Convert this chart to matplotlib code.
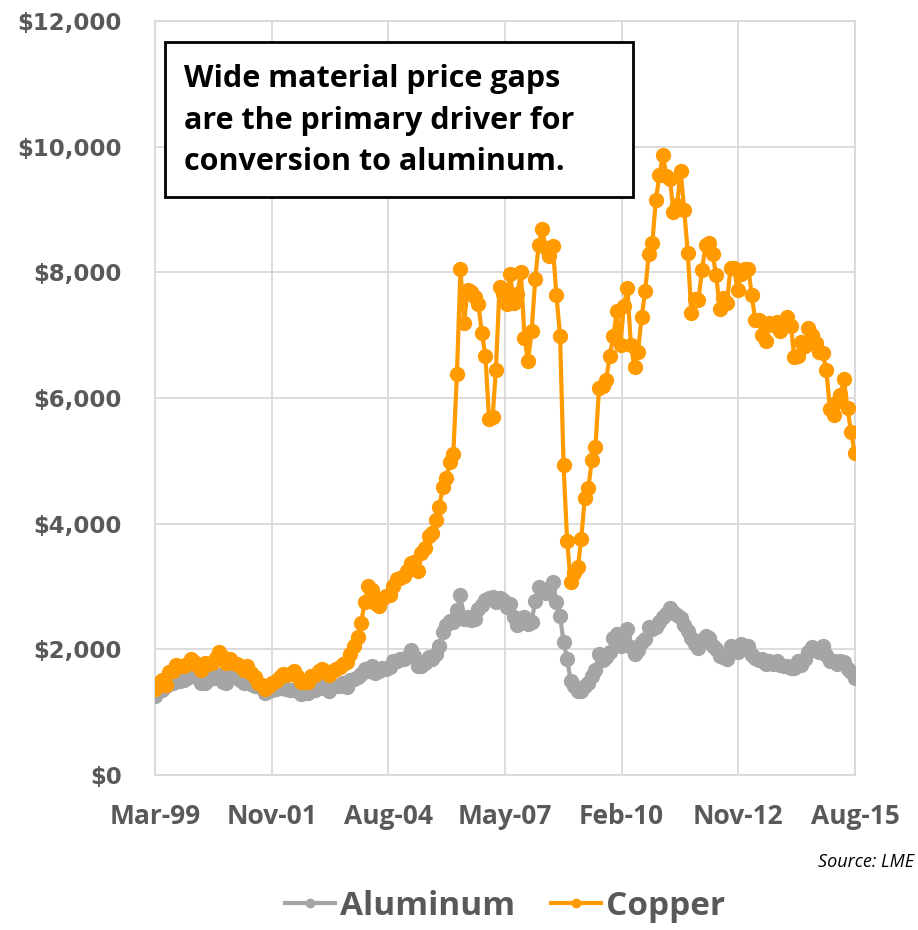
import datetime as dt

import matplotlib.pyplot as plt
import matplotlib.dates as mdates
from matplotlib.patches import Rectangle
from matplotlib.ticker import FuncFormatter

# monthly LME prices, USD per tonne, Mar-1999 .. Aug-2015
copper = [
    1376, 1459, 1508, 1425, 1641, 1648, 1745, 1731, 1735, 1768,                  # 1999 (Mar-Dec)
    1843, 1802, 1740, 1676, 1784, 1760, 1787, 1870, 1959, 1878, 1788, 1848,      # 2000
    1781, 1771, 1729, 1669, 1733, 1624, 1563, 1464, 1426, 1374, 1416, 1472,      # 2001
    1502, 1563, 1604, 1588, 1605, 1648, 1581, 1481, 1476, 1481, 1575, 1596,      # 2002
    1648, 1683, 1658, 1587, 1649, 1686, 1712, 1761, 1791, 1922, 2055, 2201,      # 2003
    2423, 2759, 3006, 2948, 2733, 2690, 2808, 2853, 2858, 3010, 3121, 3143,      # 2004
    3170, 3254, 3380, 3391, 3245, 3528, 3614, 3796, 3857, 4059, 4269, 4577,      # 2005
    4734, 4982, 5103, 6388, 8046, 7197, 7712, 7692, 7602, 7500, 7029, 6675,      # 2006
    5670, 5699, 6452, 7766, 7657, 7495, 7970, 7510, 7650, 8008, 6960, 6587,      # 2007
    7061, 7888, 8439, 8685, 8383, 8260, 8414, 7633, 6990, 4927, 3717, 3072,      # 2008
    3221, 3315, 3750, 4407, 4569, 5014, 5216, 6165, 6196, 6288, 6676, 6982,      # 2009
    7386, 6848, 7463, 7745, 6838, 6499, 6735, 7284, 7709, 8292, 8470, 9147,      # 2010
    9556, 9868, 9531, 9483, 8960, 9067, 9620, 9000, 8300, 7350, 7581, 7565,      # 2011
    8040, 8441, 8470, 8289, 7955, 7423, 7584, 7516, 8068, 8062, 7711, 7966,      # 2012
    8048, 8061, 7645, 7234, 7249, 7000, 6907, 7189, 7160, 7203, 7070, 7215,      # 2013
    7291, 7149, 6650, 6674, 6891, 6821, 7113, 7002, 6872, 6737, 6713, 6446,      # 2014
    5831, 5729, 5940, 6042, 6295, 5833, 5457, 5127,                              # 2015 (Jan-Aug)
]

aluminum = [
    1250, 1340, 1360, 1420, 1480, 1460, 1520, 1500, 1510, 1550,                  # 1999
    1680, 1650, 1550, 1470, 1460, 1510, 1590, 1550, 1590, 1480, 1470, 1590,      # 2000
    1600, 1600, 1510, 1460, 1540, 1450, 1420, 1420, 1380, 1310, 1330, 1360,      # 2001
    1370, 1380, 1410, 1370, 1350, 1360, 1350, 1290, 1300, 1300, 1370, 1360,      # 2002
    1380, 1410, 1390, 1330, 1420, 1410, 1410, 1460, 1400, 1510, 1530, 1560,      # 2003
    1600, 1680, 1660, 1730, 1630, 1660, 1700, 1690, 1720, 1820, 1820, 1850,      # 2004
    1840, 1880, 1990, 1890, 1740, 1730, 1790, 1880, 1840, 1930, 2060, 2270,      # 2005
    2380, 2450, 2430, 2620, 2860, 2480, 2510, 2460, 2480, 2640, 2700, 2790,      # 2006
    2820, 2830, 2760, 2810, 2790, 2680, 2720, 2510, 2380, 2440, 2510, 2400,      # 2007
    2440, 2770, 3000, 2960, 2900, 2960, 3070, 2760, 2530, 2120, 1850, 1490,      # 2008
    1410, 1330, 1340, 1420, 1460, 1580, 1670, 1930, 1830, 1880, 1950, 2180,      # 2009
    2240, 2050, 2210, 2320, 2040, 1930, 1990, 2110, 2160, 2350, 2330, 2350,      # 2010
    2440, 2510, 2560, 2660, 2600, 2550, 2500, 2380, 2290, 2180, 2080, 2020,      # 2011
    2150, 2210, 2180, 2050, 2000, 1890, 1880, 1840, 2060, 1980, 1950, 2080,      # 2012
    2040, 2050, 1910, 1860, 1830, 1840, 1770, 1820, 1760, 1810, 1750, 1740,      # 2013
    1730, 1700, 1710, 1810, 1750, 1840, 1950, 2030, 1990, 1950, 2060, 1910,      # 2014
    1820, 1820, 1770, 1820, 1800, 1690, 1640, 1550,                              # 2015
]

dates = []
y, m = 1999, 3
for _ in range(len(copper)):
    dates.append(dt.date(y, m, 1))
    m += 1
    if m > 12:
        y, m = y + 1, 1

GRAY = '#A5A5A5'
ORANGE = '#FF9A00'
TXT = '#595959'
GRID = '#D9D9D9'
SANS = 'Open Sans'

W, H = 918, 930
fig = plt.figure(figsize=(W / 100, H / 100), dpi=100)

def fx(px):
    return px / W

def fy(py):
    return 1 - py / H

ax = fig.add_axes([fx(155), fy(775), fx(855) - fx(155), fy(21) - fy(775)])

ax.plot(dates, aluminum, color=GRAY, lw=3, marker='o', ms=10, label='Aluminum', zorder=3)
ax.plot(dates, copper, color=ORANGE, lw=3, marker='o', ms=10, label='Copper', zorder=4)

# Excel date axis: major unit of 1000 days from Mar-1999
start = dt.date(1999, 3, 1)
ticks = [start + dt.timedelta(days=1000 * i) for i in range(7)]
ax.set_xlim(ticks[0], ticks[-1])
ax.set_xticks(ticks)
ax.xaxis.set_major_formatter(mdates.DateFormatter('%b-%y'))

ax.set_ylim(0, 12000)
ax.set_yticks(range(0, 12001, 2000))
ax.yaxis.set_major_formatter(FuncFormatter(lambda v, p: '${:,.0f}'.format(v)))

ax.grid(True, color=GRID, lw=1.3, zorder=0)
ax.set_axisbelow(True)
for s in ax.spines.values():
    s.set_color(GRID)
    s.set_linewidth(1.3)
ax.tick_params(length=0)
ax.tick_params(axis='y', pad=24)
ax.tick_params(axis='x', pad=20)
for lab in ax.get_yticklabels():
    lab.set_fontfamily('DejaVu Sans')
    lab.set_fontweight('bold')
    lab.set_fontsize(16.5)
    lab.set_color(TXT)
for lab in ax.get_xticklabels():
    lab.set_fontfamily(SANS)
    lab.set_fontweight('bold')
    lab.set_fontsize(19)
    lab.set_color(TXT)

# annotation box
fig.patches.append(Rectangle((fx(165), fy(197)), fx(633) - fx(165), fy(42) - fy(197),
                             transform=fig.transFigure, facecolor='white',
                             edgecolor='black', lw=2, zorder=10))
fig.text(fx(184), fy(121),
         'Wide material price gaps\nare the primary driver for\nconversion to aluminum.',
         family=SANS, weight='bold', fontsize=22, color='black',
         va='center', ha='left', linespacing=1.5, zorder=11)

fig.text(fx(818), fy(862), 'Source: LME', family=SANS, style='italic',
         fontsize=13, color='black', va='center', ha='left')

leg = fig.legend(loc='center', bbox_to_anchor=(fx(505), fy(906)), ncol=2, frameon=False,
                 prop={'family': SANS, 'weight': 'bold', 'size': 24},
                 handlelength=1.5, handletextpad=0.15, columnspacing=1.1,
                 markerscale=0.6)
for t in leg.get_texts():
    t.set_color(TXT)

fig.savefig('out.png', dpi=100)
